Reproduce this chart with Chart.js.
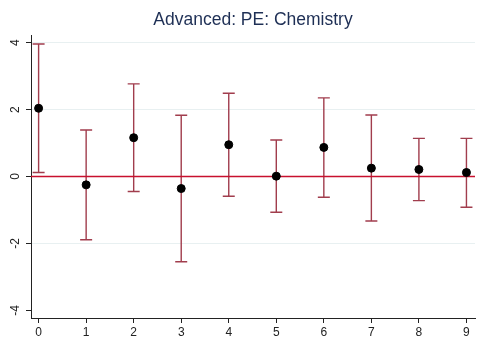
<!DOCTYPE html>
<html>
<head>
<meta charset="utf-8">
<script src="https://cdn.jsdelivr.net/npm/chart.js@4.4.1/dist/chart.umd.min.js"></script>
<style>
  html, body { margin: 0; padding: 0; background: #fff; }
  #wrap { width: 477px; height: 338px; }
</style>
</head>
<body>
<div id="wrap"><canvas id="chart"></canvas></div>
<script>
// --- Data ---
const periods = [0, 1, 2, 3, 4, 5, 6, 7, 8, 9];
const estimates = [2.04, -0.25, 1.16, -0.36, 0.95, 0.01, 0.87, 0.25, 0.21, 0.12];
const upperCI = [3.96, 1.39, 2.77, 1.83, 2.49, 1.09, 2.35, 1.84, 1.14, 1.14];
const lowerCI = [0.12, -1.89, -0.45, -2.55, -0.59, -1.07, -0.62, -1.33, -0.72, -0.92];
const yTicks = [-4, -2, 0, 2, 4];
const TITLE = 'Advanced: PE: Chemistry';

const BAR_COLOR = '#a13d4d';
const ZERO_COLOR = '#c8102e';
const FONT = 'Liberation Sans, Arial, sans-serif';

// Draws the confidence intervals and the zero reference line under the points
const errorBarPlugin = {
    id: 'errorBars',
    beforeDatasetsDraw(chart) {
        const { ctx, scales: { x, y }, chartArea } = chart;
        ctx.save();
        ctx.strokeStyle = BAR_COLOR;
        ctx.lineWidth = 1.4;
        periods.forEach((p, i) => {
            const px = x.getPixelForValue(p);
            const top = y.getPixelForValue(upperCI[i]);
            const bot = y.getPixelForValue(lowerCI[i]);
            ctx.beginPath();
            ctx.moveTo(px, top);
            ctx.lineTo(px, bot);
            ctx.moveTo(px - 6, top);
            ctx.lineTo(px + 6, top);
            ctx.moveTo(px - 6, bot);
            ctx.lineTo(px + 6, bot);
            ctx.stroke();
        });
        // zero line
        const zy = y.getPixelForValue(0);
        ctx.strokeStyle = ZERO_COLOR;
        ctx.lineWidth = 1.3;
        ctx.beginPath();
        ctx.moveTo(chartArea.left, zy);
        ctx.lineTo(chartArea.right, zy);
        ctx.stroke();
        ctx.restore();
    }
};

// Title centred over the plot region (Stata style), not over the whole canvas
const plotTitlePlugin = {
    id: 'plotTitle',
    afterDraw(chart) {
        const { ctx, chartArea } = chart;
        ctx.save();
        ctx.fillStyle = '#1e2f55';
        ctx.font = `17.5px ${FONT}`;
        ctx.textAlign = 'center';
        ctx.textBaseline = 'middle';
        ctx.fillText(TITLE, (chartArea.left + chartArea.right) / 2, 20);
        ctx.restore();
    }
};

const ctx = document.getElementById('chart').getContext('2d');
new Chart(ctx, {
    type: 'scatter',
    data: {
        datasets: [{
            data: periods.map((p, i) => ({ x: p, y: estimates[i] })),
            backgroundColor: '#000',
            borderColor: '#000',
            pointRadius: 4,
            pointHoverRadius: 4
        }]
    },
    options: {
        responsive: true,
        maintainAspectRatio: false,
        animation: false,
        devicePixelRatio: 1,
        layout: { autoPadding: false, padding: { left: 0, right: 2, top: 35, bottom: 0 } },
        plugins: {
            legend: { display: false },
            tooltip: { enabled: false },
            title: { display: false }
        },
        scales: {
            x: {
                type: 'linear',
                min: -0.16,
                max: 9.18,
                afterBuildTicks: scale => { scale.ticks = periods.map(v => ({ value: v })); },
                afterFit: scale => { scale.height = 20; },
                grid: {
                    drawOnChartArea: false,
                    drawTicks: true,
                    tickLength: 5,
                    tickColor: '#222'
                },
                border: { color: '#222', width: 1 },
                ticks: {
                    color: '#222',
                    padding: 2,
                    maxRotation: 0,
                    font: { family: FONT, size: 12 }
                }
            },
            y: {
                type: 'linear',
                min: -4.23,
                max: 4.23,
                afterBuildTicks: scale => { scale.ticks = yTicks.map(v => ({ value: v })); },
                afterFit: scale => { scale.width = 31; },
                grid: {
                    color: c => (c.tick && c.tick.value === -4) ? 'rgba(0,0,0,0)' : '#e8f0f1',
                    lineWidth: 1,
                    drawTicks: true,
                    tickLength: 5,
                    tickColor: '#222'
                },
                border: { color: '#222', width: 1 },
                ticks: {
                    color: '#222',
                    padding: 5,
                    minRotation: 90,
                    maxRotation: 90,
                    crossAlign: 'center',
                    font: { family: FONT, size: 12 }
                }
            }
        }
    },
    plugins: [errorBarPlugin, plotTitlePlugin]
});
</script>
</body>
</html>
